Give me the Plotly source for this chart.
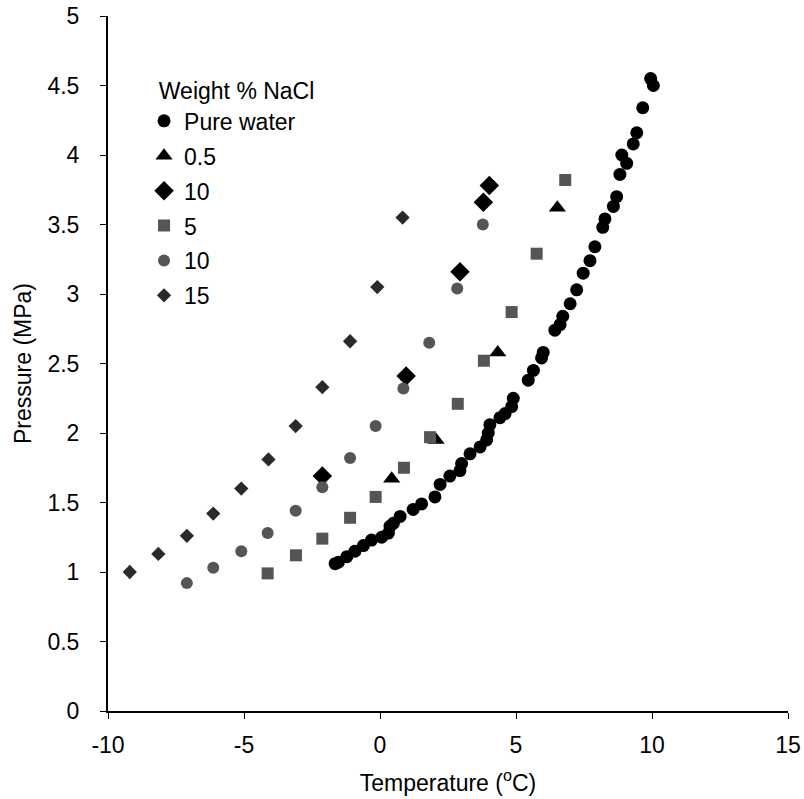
import plotly.graph_objects as go

# Pure water
pw_T = [-1.65, -1.53, -1.22, -0.92, -0.61, -0.31, 0.06, 0.31, 0.37, 0.49, 0.74, 1.22, 1.53,
        2.02, 2.21, 2.57, 2.94, 3.0, 3.31, 3.68, 3.92, 3.98, 4.04, 4.41, 4.6, 4.84, 4.9,
        5.45, 5.64, 5.94, 6.0, 6.43, 6.62, 6.72, 6.99, 7.23, 7.47, 7.72, 7.9, 8.19, 8.27,
        8.58, 8.7, 8.82, 8.89, 9.07, 9.31, 9.44, 9.66, 9.95, 10.05]
pw_P = [1.06, 1.07, 1.11, 1.15, 1.19, 1.23, 1.25, 1.28, 1.33, 1.35, 1.40, 1.45, 1.49,
        1.54, 1.63, 1.69, 1.73, 1.78, 1.85, 1.90, 1.95, 2.00, 2.06, 2.11, 2.14, 2.19, 2.25,
        2.38, 2.45, 2.54, 2.58, 2.74, 2.78, 2.84, 2.93, 3.03, 3.15, 3.24, 3.34, 3.48, 3.54,
        3.63, 3.70, 3.86, 4.00, 3.94, 4.08, 4.16, 4.34, 4.55, 4.50]

# 0.5 wt% (triangles)
t05_T = [0.43, 2.06, 4.33, 6.52]
t05_P = [1.67, 1.95, 2.58, 3.62]

# 10 wt% (diamonds)
d10_T = [-2.12, 0.96, 2.94, 3.80, 4.02]
d10_P = [1.69, 2.41, 3.16, 3.66, 3.78]

# 5 wt% (squares)
s5_T = [-4.13, -3.09, -2.12, -1.10, -0.16, 0.88, 1.84, 2.86, 3.82, 4.84, 5.76, 6.81]
s5_P = [0.99, 1.12, 1.24, 1.39, 1.54, 1.75, 1.97, 2.21, 2.52, 2.87, 3.29, 3.82]

# 10 wt% (circles)
c10_T = [-7.1, -6.13, -5.1, -4.13, -3.1, -2.12, -1.1, -0.16, 0.86, 1.81, 2.84, 3.78]
c10_P = [0.92, 1.03, 1.15, 1.28, 1.44, 1.61, 1.82, 2.05, 2.32, 2.65, 3.04, 3.50]

# 15 wt% (small diamonds)
d15_T = [-9.2, -8.15, -7.1, -6.13, -5.1, -4.1, -3.1, -2.12, -1.1, -0.1, 0.83]
d15_P = [1.00, 1.13, 1.26, 1.42, 1.60, 1.81, 2.05, 2.33, 2.66, 3.05, 3.55]

x_ticks = [-10, -5, 0, 5, 10, 15]
y_ticks = [0, 0.5, 1, 1.5, 2, 2.5, 3, 3.5, 4, 4.5, 5]

series = [
    ("Pure water", pw_T, pw_P, "circle", 13, "#000000"),
    ("0.5", t05_T, t05_P, "triangle-up", 15, "#000000"),
    ("10", d10_T, d10_P, "diamond", 15, "#000000"),
    ("5", s5_T, s5_P, "square", 12, "#555555"),
    ("10 ", c10_T, c10_P, "circle", 12, "#555555"),
    ("15", d15_T, d15_P, "diamond", 11, "#2a2a2a"),
]

fig = go.Figure()
for i, (name, xs, ys, sym, sz, col) in enumerate(series):
    fig.add_trace(go.Scatter(
        x=xs, y=ys, mode="markers", name=name, legendgroup=f"g{i}",
        marker=dict(symbol=sym, size=sz, color=col, line=dict(width=0)),
    ))

font_family = "Liberation Sans, Arial, sans-serif"
fig.update_layout(
    width=804, height=799,
    margin=dict(l=108, r=16, t=16, b=88, autoexpand=False),
    paper_bgcolor="white", plot_bgcolor="white",
    font=dict(family=font_family, size=23, color="#000000"),
    showlegend=True,
    legend=dict(
        title=dict(text="&nbsp;&nbsp;Weight % NaCl", font=dict(size=23)),
        x=0.053, y=0.923, xanchor="left", yanchor="top",
        font=dict(size=23), tracegroupgap=2,
        bgcolor="rgba(0,0,0,0)", itemsizing="trace",
    ),
    xaxis=dict(
        range=[-10, 15], tickvals=x_ticks, ticktext=[str(v) for v in x_ticks],
        showgrid=False, zeroline=False, showline=True, linecolor="black", linewidth=2,
        ticks="outside", ticklen=6, tickcolor="black", tickfont=dict(size=23),
        ticklabelstandoff=6, automargin=False,
        title=dict(text="Temperature (<sup>o</sup>C)", font=dict(size=23), standoff=18),
    ),
    yaxis=dict(
        range=[0, 5], tickvals=y_ticks, ticktext=[f"{v:g}" for v in y_ticks],
        showgrid=False, zeroline=False, showline=True, linecolor="black", linewidth=2,
        ticks="outside", ticklen=6, tickcolor="black", tickfont=dict(size=23),
        ticklabelstandoff=16, automargin=False,
        title=dict(text="Pressure (MPa)", font=dict(size=23), standoff=9),
    ),
)

fig.write_html("out.html")
